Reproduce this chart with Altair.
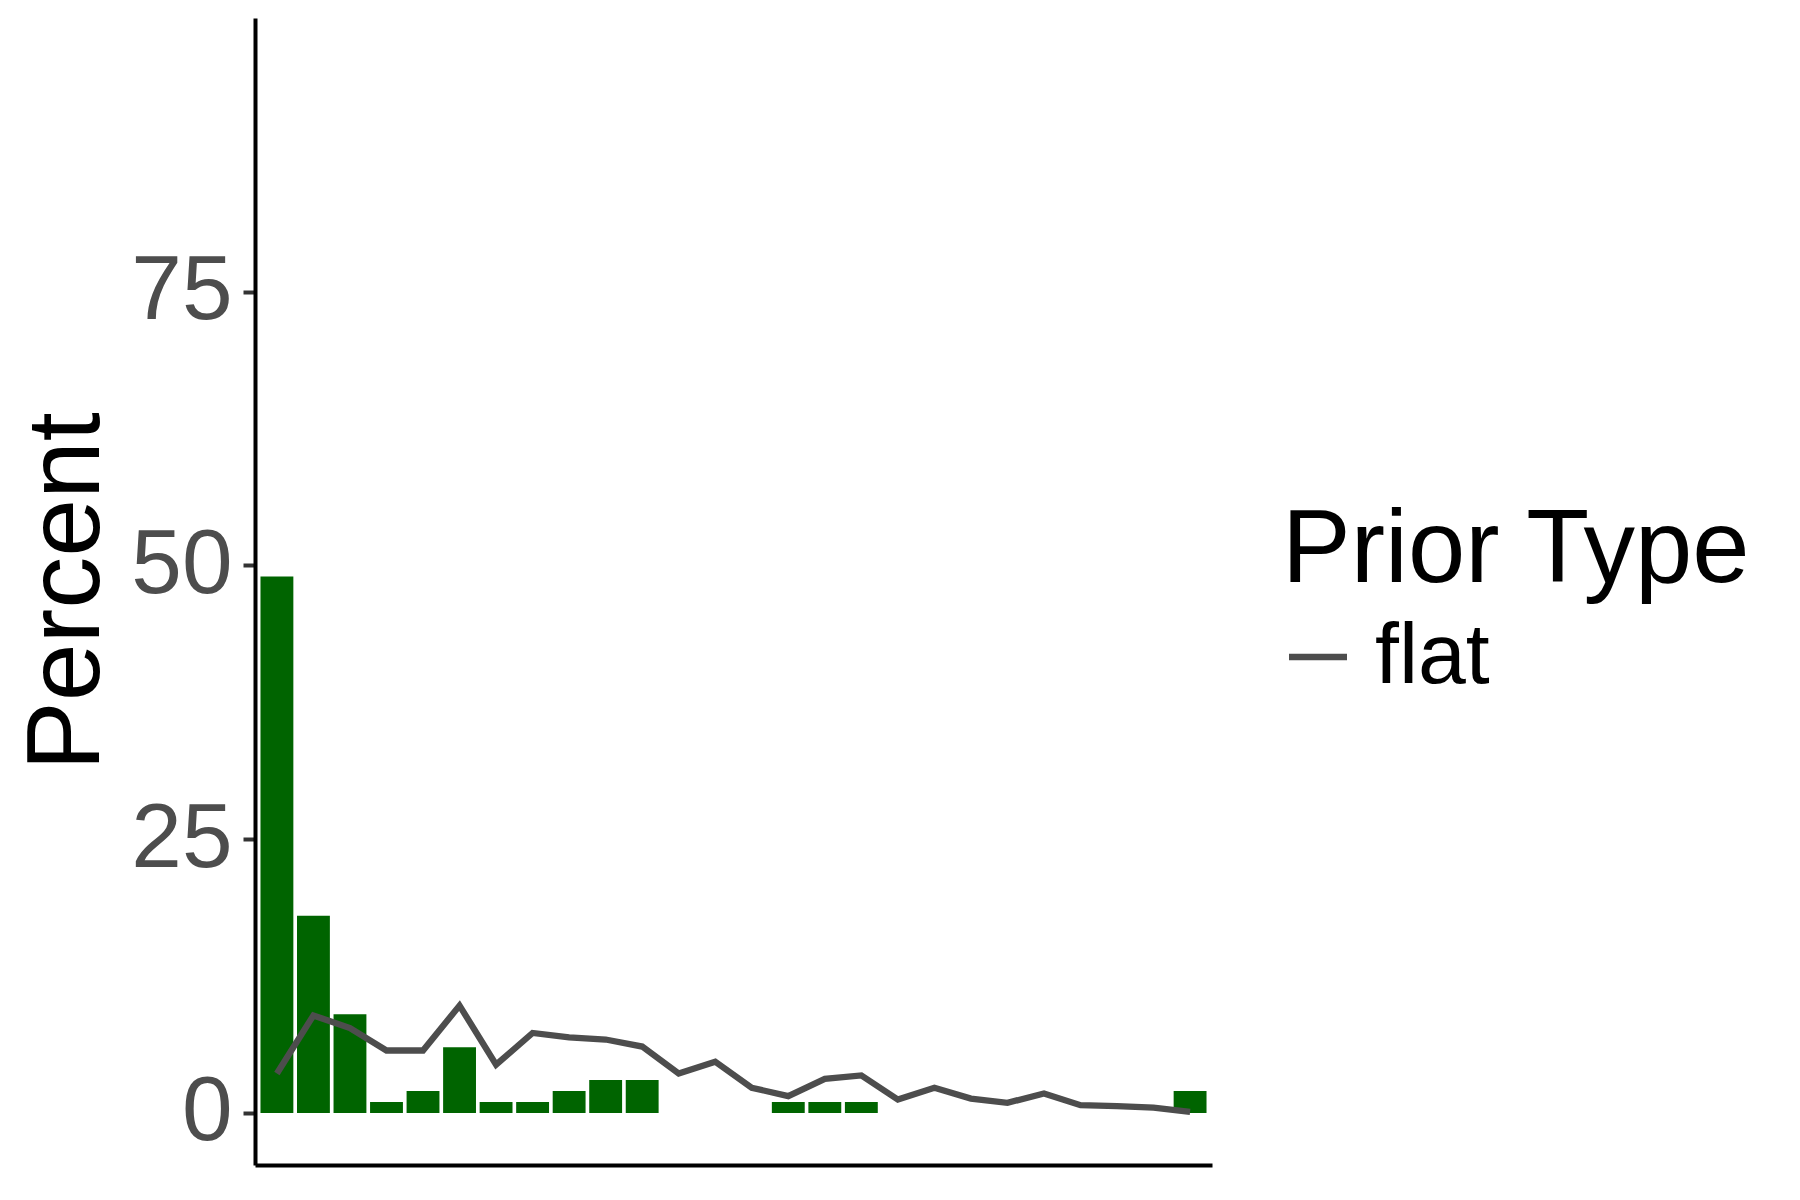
import altair as alt
import pandas as pd

# Data
positions = list(range(1, 27))
observed_pct = [49, 18, 9, 1, 2, 6, 1, 1, 2, 3, 3, 0, 0, 0, 1, 1, 1,
                0, 0, 0, 0, 0, 0, 0, 0, 2]
flat_prior_pct = [3.6, 8.9, 7.75, 5.7, 5.7, 9.8, 4.4, 7.3, 6.9, 6.7, 6.06,
                  3.6, 4.67, 2.29, 1.53, 3.11, 3.42, 1.22, 2.29, 1.31, 0.92,
                  1.77, 0.70, 0.61, 0.49, 0.09]
prior_types = ["flat"]
y_tick_values = [0, 25, 50, 75]

bars_df = pd.DataFrame({"pos": positions, "pct": observed_pct})
line_df = pd.DataFrame({"pos": positions, "pct": flat_prior_pct,
                        "prior": prior_types * len(positions)})

FONT = "Liberation Sans"
x_scale = alt.Scale(domain=[0.4, 26.6], nice=False, zero=False)
y_scale = alt.Scale(domain=[-4.76, 100], nice=False, zero=False)

x_axis = alt.Axis(title=None, labels=False, ticks=False, grid=False,
                  domainColor="black", domainWidth=4)
y_axis = alt.Axis(title="Percent", values=y_tick_values, grid=False,
                  domainColor="black", domainWidth=4,
                  tickColor="#333333", tickWidth=4, tickSize=12,
                  labelFontSize=91, labelColor="#4D4D4D", labelFont=FONT,
                  labelPadding=11, labelFlush=False, labelOverlap=False,
                  titleFontSize=104, titleFont=FONT, titleFontWeight="normal",
                  titleColor="black", titleAngle=270, titleX=-157, titleY=573,
                  titleBaseline="alphabetic", titleAlign="center")

bars = alt.Chart(bars_df).transform_calculate(
    x0="datum.pos - 0.45", x1="datum.pos + 0.45"
).mark_bar(color="#006400").encode(
    x=alt.X("x0:Q", scale=x_scale, axis=x_axis),
    x2="x1:Q",
    y=alt.Y("pct:Q", scale=y_scale, axis=y_axis),
    y2=alt.datum(0),
)

line = alt.Chart(line_df).mark_line(strokeWidth=6.3).encode(
    x=alt.X("pos:Q", scale=x_scale, axis=x_axis),
    y=alt.Y("pct:Q", scale=y_scale, axis=y_axis),
    color=alt.Color(
        "prior:N",
        scale=alt.Scale(domain=prior_types, range=["#4D4D4D"]),
        legend=alt.Legend(title="Prior Type", orient="none",
                          legendX=1027, legendY=483, padding=0,
                          titleFontSize=103, titleFont=FONT,
                          titleFontWeight="normal", titleColor="black",
                          titlePadding=10, titleLimit=1000, labelLimit=1000,
                          labelFontSize=86, labelFont=FONT, labelColor="black",
                          symbolType="stroke", symbolSize=3364,
                          symbolStrokeWidth=6.3, symbolOffset=-7, labelOffset=14),
    ),
)

chart = alt.layer(bars, line).properties(
    width=957, height=1147,
    autosize="none",
    padding={"left": 255, "top": 18, "right": 588, "bottom": 35},
    background="white",
).configure_view(strokeWidth=0)

chart.save("out.html", embed_options={"renderer": "svg", "actions": False})
